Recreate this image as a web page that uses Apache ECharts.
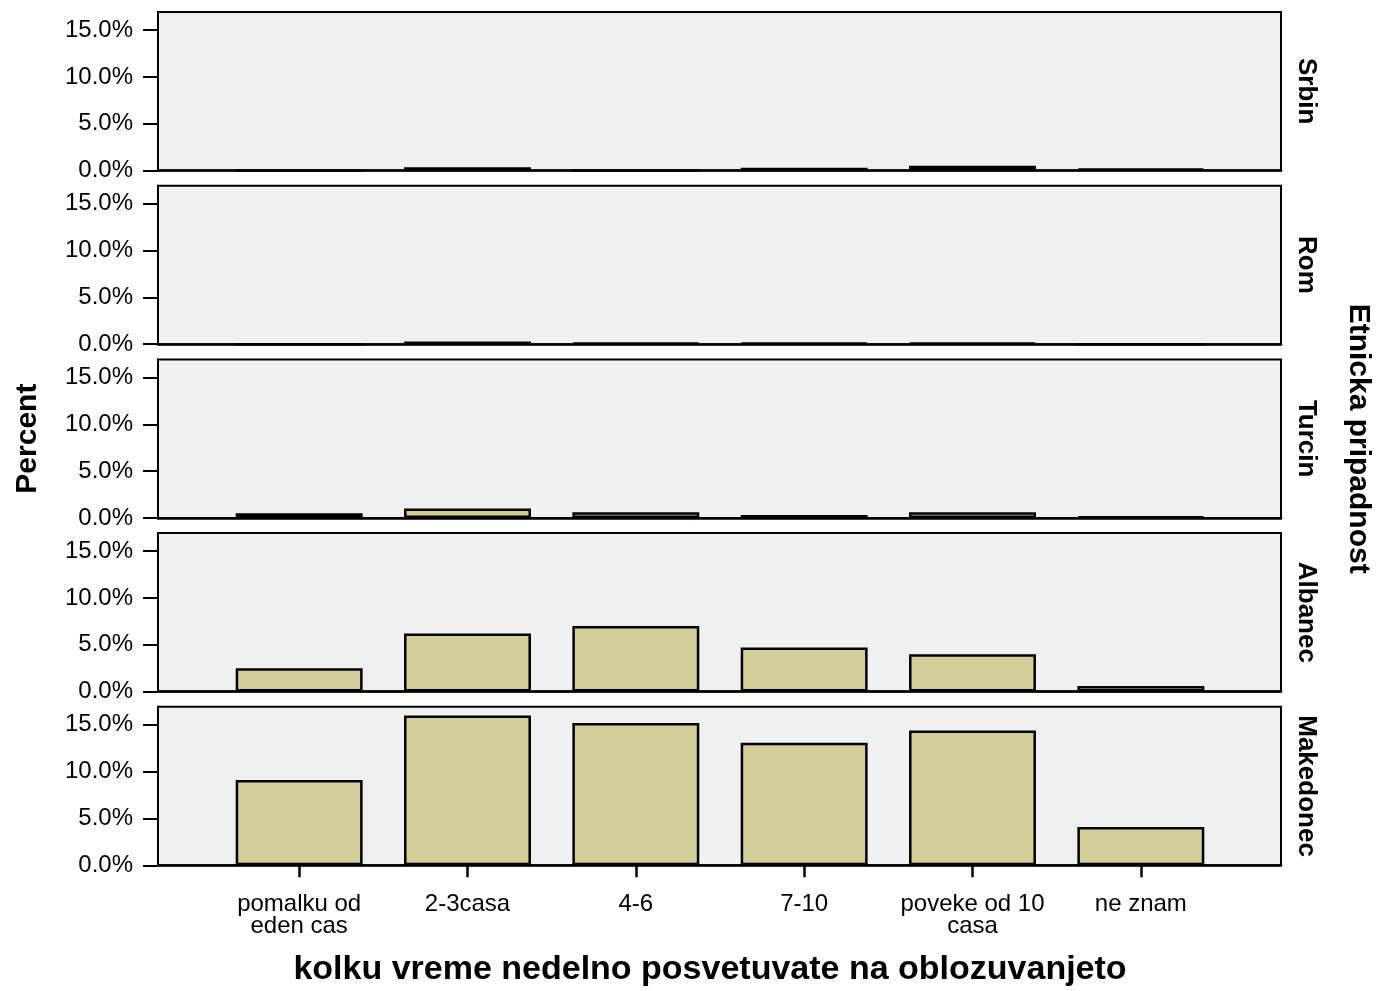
<!DOCTYPE html>
<html><head><meta charset="utf-8">
<script src="https://cdn.jsdelivr.net/npm/echarts@6/dist/echarts.min.js"></script>
<style>html,body{margin:0;padding:0;background:#fff}#c{width:1381px;height:991px}</style>
</head><body><div id="c"></div>
<script>
const categories = ['pomalku od\neden cas', '2-3casa', '4-6', '7-10', 'poveke od 10\ncasa', 'ne znam'];
const groups = ['Srbin', 'Rom', 'Turcin', 'Albanec', 'Makedonec'];
const srbin = [0, 0.35, 0, 0.3, 0.5, 0.2];
const rom = [0, 0.3, 0.15, 0.15, 0.15, 0];
const turcin = [0.5, 1.0, 0.6, 0.3, 0.6, 0.15];
const albanec = [2.5, 6.2, 7.0, 4.7, 4.0, 0.6];
const makedonec = [9.1, 16.0, 15.2, 13.1, 14.4, 4.1];
const yTicks = [0, 5, 10, 15];
const yTitle = 'Percent';
const xTitle = 'kolku vreme nedelno posvetuvate na oblozuvanjeto';
const panelTitle = 'Etnicka pripadnost';

const values = [srbin, rom, turcin, albanec, makedonec];
const FONT = '"Liberation Sans", Arial, Helvetica, sans-serif';
const YMAX = 16.93;
const panelTop0 = 12, panelStep = 173.7, panelH = 158.5;
const bgLeft = 158, bgRight = 100, dataLeft = 215, dataRight = 156;

const grid = [], xAxis = [], yAxis = [], series = [], graphic = [];
groups.forEach((g, i) => {
  const top = panelTop0 + i * panelStep;
  const last = i === groups.length - 1;
  grid.push({left: bgLeft, right: bgRight, top: top, height: panelH, show: true,
    backgroundColor: '#f0f0f0', borderColor: '#000', borderWidth: 2});
  grid.push({left: dataLeft, right: dataRight, top: top, height: panelH});
  xAxis.push({gridIndex: 2 * i, type: 'value', min: 0, max: 1,
    axisLine: {show: true, lineStyle: {color: '#000', width: 2.5}},
    axisTick: {show: false}, axisLabel: {show: false}, splitLine: {show: false}});
  xAxis.push({gridIndex: 2 * i + 1, type: 'category', data: categories,
    axisLine: {show: false},
    axisTick: {show: last, alignWithLabel: true, length: 12, lineStyle: {color: '#000', width: 2.5}},
    axisLabel: {show: last, interval: 0, color: '#000', fontFamily: FONT, fontSize: 24, lineHeight: 22, margin: 28},
    splitLine: {show: false}});
  yAxis.push({gridIndex: 2 * i, type: 'value', min: 0, max: YMAX,
    axisLine: {show: true, lineStyle: {color: '#000', width: 2}},
    axisTick: {show: true, length: 15, customValues: yTicks, lineStyle: {color: '#000', width: 2}},
    axisLabel: {show: true, customValues: yTicks, margin: 25, color: '#000', fontFamily: FONT, fontSize: 24,
      padding: [8, 0, 0, 0], formatter: v => v.toFixed(1) + '%'},
    splitLine: {show: false}});
  yAxis.push({gridIndex: 2 * i + 1, type: 'value', min: 0, max: YMAX, show: false, splitLine: {show: false}});
  series.push({type: 'bar', name: g, xAxisIndex: 2 * i + 1, yAxisIndex: 2 * i + 1, data: values[i],
    barWidth: '75.4%', z: 3,
    itemStyle: {color: '#d3ce98', borderColor: '#000', borderWidth: 2.5}});
  graphic.push({type: 'text', x: 1306, y: top + panelH / 2, rotation: -Math.PI / 2,
    style: {text: g, font: 'bold 26px ' + FONT, fill: '#000', textAlign: 'center', textVerticalAlign: 'middle'}});
});
const plotMid = panelTop0 + (panelStep * (groups.length - 1) + panelH) / 2;
graphic.push({type: 'text', x: 28, y: plotMid, rotation: Math.PI / 2,
  style: {text: yTitle, font: 'bold 30px ' + FONT, fill: '#000', textAlign: 'center', textVerticalAlign: 'middle'}});
graphic.push({type: 'text', x: 1358, y: plotMid, rotation: -Math.PI / 2,
  style: {text: panelTitle, font: 'bold 30px ' + FONT, fill: '#000', textAlign: 'center', textVerticalAlign: 'middle'}});
graphic.push({type: 'text', x: 710, y: 970,
  style: {text: xTitle, font: 'bold 34px ' + FONT, fill: '#000', textAlign: 'center', textVerticalAlign: 'middle'}});

const chart = echarts.init(document.getElementById('c'), null, {renderer: 'canvas'});
chart.setOption({animation: false, backgroundColor: '#fff', grid, xAxis, yAxis, series, graphic});
</script></body></html>
